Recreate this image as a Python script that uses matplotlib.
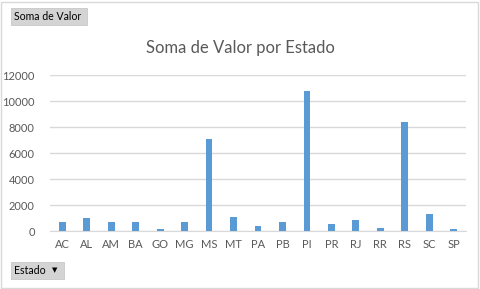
import matplotlib
matplotlib.use("Agg")
import matplotlib.pyplot as plt
from matplotlib.patches import Rectangle

estados = ["AC", "AL", "AM", "BA", "GO", "MG", "MS", "MT", "PA", "PB",
           "PI", "PR", "RJ", "RR", "RS", "SC", "SP"]
valores = [700, 1000, 700, 700, 150, 700, 7080, 1100, 400, 700,
           10780, 540, 850, 230, 8400, 1310, 150]
yticks = [0, 2000, 4000, 6000, 8000, 10000, 12000]

plt.rcParams['font.family'] = ['Lato', 'DejaVu Sans']
W, H = 480, 289
fig = plt.figure(figsize=(W / 100, H / 100), dpi=100)
fig.patch.set_facecolor("white")

ax = fig.add_axes([50 / W, 1 - 231 / H, 416 / W, 156 / H])
x = list(range(len(estados)))
ax.bar(x, valores, width=0.28, color="#5b9bd5", zorder=3)
ax.set_xlim(-0.5, len(estados) - 0.5)
ax.set_ylim(0, 12000)
ax.set_yticks(yticks)
ax.set_yticklabels([str(v) for v in yticks])
ax.set_xticks(x)
ax.set_xticklabels(estados)
ax.grid(axis="y", color="#d9d9d9", linewidth=1, zorder=0)
for s in ["top", "right", "left"]:
    ax.spines[s].set_visible(False)
ax.spines["bottom"].set_color("#d9d9d9")
ax.tick_params(axis="both", length=0, labelsize=8, colors="#595959")
ax.tick_params(axis="y", pad=11)
ax.tick_params(axis="x", pad=6)

fig.text(0.5, 1 - 48 / H, "Soma de Valor por Estado", ha="center", va="center",
         fontsize=12, color="#595959")

# outer border
fig.add_artist(Rectangle((1 / W, 1 / H), (W - 3) / W, (H - 3) / H,
                         transform=fig.transFigure, fill=False,
                         edgecolor="#d9d9d9", linewidth=1))

# field buttons
fig.add_artist(Rectangle((11 / W, 1 - 25 / H), 76 / W, 17 / H,
                         transform=fig.transFigure, facecolor="#d4d4d4",
                         edgecolor="#c8c8c8", linewidth=0.6))
fig.text(14 / W, 1 - 16.5 / H, "Soma de Valor", ha="left", va="center",
         fontsize=7.6, color="#000000")
fig.add_artist(Rectangle((11 / W, 1 - 279 / H), 53 / W, 17 / H,
                         transform=fig.transFigure, facecolor="#d4d4d4",
                         edgecolor="#c8c8c8", linewidth=0.6))
fig.text(14 / W, 1 - 270.5 / H, "Estado", ha="left", va="center",
         fontsize=7.6, color="#000000")
fig.text(55 / W, 1 - 270 / H, "\u25BC", ha="center", va="center",
         fontsize=5, color="#000000", family=['DejaVu Sans'])

fig.savefig("out.png", dpi=100)
